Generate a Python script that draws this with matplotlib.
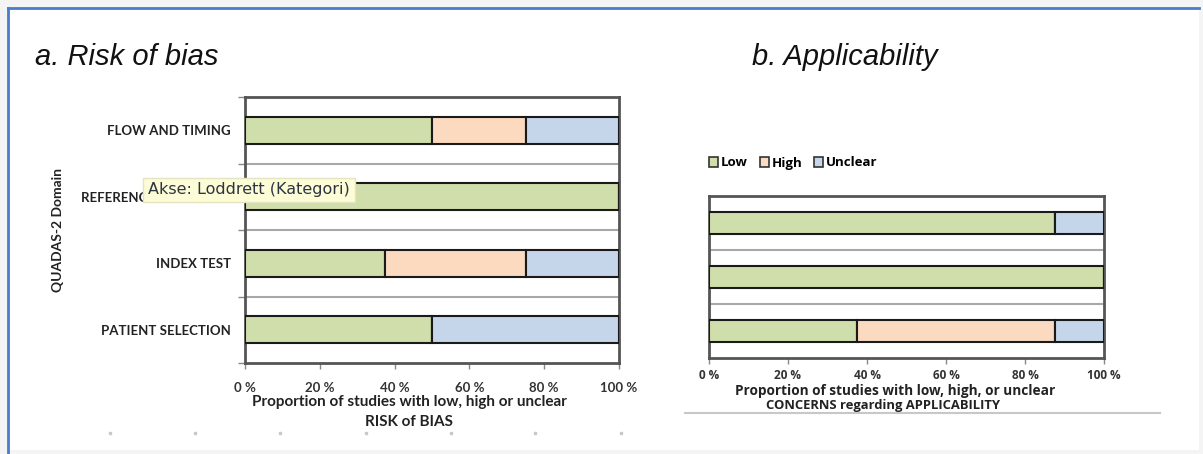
import matplotlib
matplotlib.use("Agg")
import matplotlib.pyplot as plt
from matplotlib.patches import Rectangle, Patch
import numpy as np

W, H = 1203, 454

# ---- data ----
rob_domains = ["FLOW AND TIMING", "REFERENCE STANDARD", "INDEX TEST", "PATIENT SELECTION"]
rob_low = [50, 100, 37.5, 50]
rob_high = [25, 0, 37.5, 0]
rob_unclear = [25, 0, 25, 50]

app_domains = ["REFERENCE STANDARD", "INDEX TEST", "PATIENT SELECTION"]
app_low = [87.5, 100, 37.5]
app_high = [0, 0, 50]
app_unclear = [12.5, 0, 12.5]

series_names = ["Low", "High", "Unclear"]
xticks = [0, 20, 40, 60, 80, 100]
xtick_labels = ["0 %", "20 %", "40 %", "60 %", "80 %", "100 %"]

C_LOW, C_HIGH, C_UNC = "#D0DEAB", "#FBDAC0", "#C5D6EA"
colors = [C_LOW, C_HIGH, C_UNC]

fig = plt.figure(figsize=(W / 100, H / 100), dpi=100)
fig.patch.set_facecolor("#F4F4F4")


def rect(l, t, r, b):
    return [l / W, (H - b) / H, (r - l) / W, (b - t) / H]


# white page with blue border
bg = fig.add_axes([0, 0, 1, 1], zorder=-10)
bg.set_xlim(0, W)
bg.set_ylim(H, 0)
bg.axis("off")
bg.add_patch(Rectangle((8, 8), 1191, 442, facecolor="white", edgecolor="none"))
bg.plot([8, 1199], [8, 8], color="#4A7CC7", lw=2)
bg.plot([8, 8], [8, 454], color="#4A7CC7", lw=2)
bg.plot([685, 1160], [413, 413], color="#C8C8C8", lw=1.5)
for xd in [110, 195, 280, 366, 451, 535, 621]:
    bg.plot([xd], [433], marker="s", ms=1.5, color="#C8C8C8")

LABEL_FONT = "Lato"
TEXT_C = "#222222"


def draw_panel(ax, domains, low, high, unc, ticklabels=True):
    n = len(domains)
    y = np.arange(n)
    left = np.zeros(n)
    for vals, c in zip([low, high, unc], colors):
        vals = np.array(vals, dtype=float)
        ax.barh(y, vals, left=left, height=0.41, color=c, edgecolor="#1A1A1A",
                linewidth=1.5, zorder=3)
        left += vals
    ax.set_xlim(0, 100)
    ax.set_ylim(n - 0.5, -0.5)
    for s in np.arange(0.5, n - 0.5, 1.0):
        ax.axhline(s, color="#A8A8A8", lw=1.5, zorder=1)
    for sp in ax.spines.values():
        sp.set_color("#555555")
        sp.set_linewidth(2)
    ax.set_xticks(xticks)
    ax.set_xticklabels(xtick_labels, fontfamily=LABEL_FONT, fontsize=9.5,
                       fontweight="bold", color="#333333")
    ax.tick_params(axis="x", length=4, width=1, color="#888888", pad=10)
    ax.set_yticks(y)
    if ticklabels:
        ax.set_yticklabels(domains, fontfamily=LABEL_FONT, fontsize=9.5,
                           fontweight="bold", color=TEXT_C)
    else:
        ax.set_yticklabels([])
    ax.tick_params(axis="y", length=0, pad=10)
    ax.set_yticks(np.arange(-0.5, n, 1.0), minor=True)
    ax.tick_params(axis="y", which="minor", length=5, width=1, color="#888888")


# ---- panel a ----
axa = fig.add_axes(rect(245, 97, 619, 363))
draw_panel(axa, rob_domains, rob_low, rob_high, rob_unclear)
fig.text(58 / W, 1 - 230 / H, "QUADAS-2 Domain", rotation=90, ha="center",
         va="center", fontfamily=LABEL_FONT, fontweight="bold", fontsize=10,
         color=TEXT_C)
fig.text(409 / W, 1 - 402 / H, "Proportion of studies with low, high or unclear",
         ha="center", va="center", fontfamily=LABEL_FONT, fontweight="bold",
         fontsize=11, color=TEXT_C)
fig.text(409 / W, 1 - 422 / H, "RISK of BIAS", ha="center", va="center",
         fontfamily=LABEL_FONT, fontweight="bold", fontsize=11, color=TEXT_C)
fig.text(35 / W, 1 - 57 / H, "a. Risk of bias", ha="left", va="center",
         fontfamily="Liberation Sans", fontstyle="italic", fontsize=21,
         color="#111111")

# tooltip
fig.text(148 / W, 1 - 190 / H, "Akse: Loddrett (Kategori)", ha="left", va="center",
         fontfamily="DejaVu Sans", fontsize=11.5, color="#2E3440", zorder=20,
         bbox=dict(boxstyle="square,pad=0.3", facecolor="#FCFCD6",
                   edgecolor="#E4E4C0", lw=1))

# ---- panel b ----
axb = fig.add_axes(rect(709, 196, 1104, 358))
draw_panel(axb, app_domains, app_low, app_high, app_unclear, ticklabels=False)
axb.tick_params(axis="x", pad=4)
axb.tick_params(axis="y", which="minor", length=0)
for lbl in axb.get_xticklabels():
    lbl.set_fontfamily("Open Sans")
    lbl.set_fontsize(8.5)
fig.text(895 / W, 1 - 391 / H, "Proportion of studies with low, high, or unclear",
         ha="center", va="center", fontfamily="Open Sans", fontweight="bold",
         fontsize=9.8, color=TEXT_C)
fig.text(883 / W, 1 - 406 / H, "CONCERNS regarding APPLICABILITY",
         ha="center", va="center", fontfamily="Open Sans", fontweight="bold",
         fontsize=9.4, color=TEXT_C)
fig.text(752 / W, 1 - 57 / H, "b. Applicability", ha="left", va="center",
         fontfamily="Liberation Sans", fontstyle="italic", fontsize=21,
         color="#111111")

handles = [Patch(facecolor=c, edgecolor="#333333", lw=1.2, label=n)
           for c, n in zip(colors, series_names)]
fig.legend(handles=handles, loc="center left", bbox_to_anchor=(697 / W, 1 - 163 / H),
           ncol=3, frameon=False, handlelength=0.7, handleheight=0.7,
           handletextpad=0.2, columnspacing=0.9,
           prop=dict(family="Open Sans", weight="bold", size=9.5))

fig.savefig("out.png", dpi=100, facecolor=fig.get_facecolor())
